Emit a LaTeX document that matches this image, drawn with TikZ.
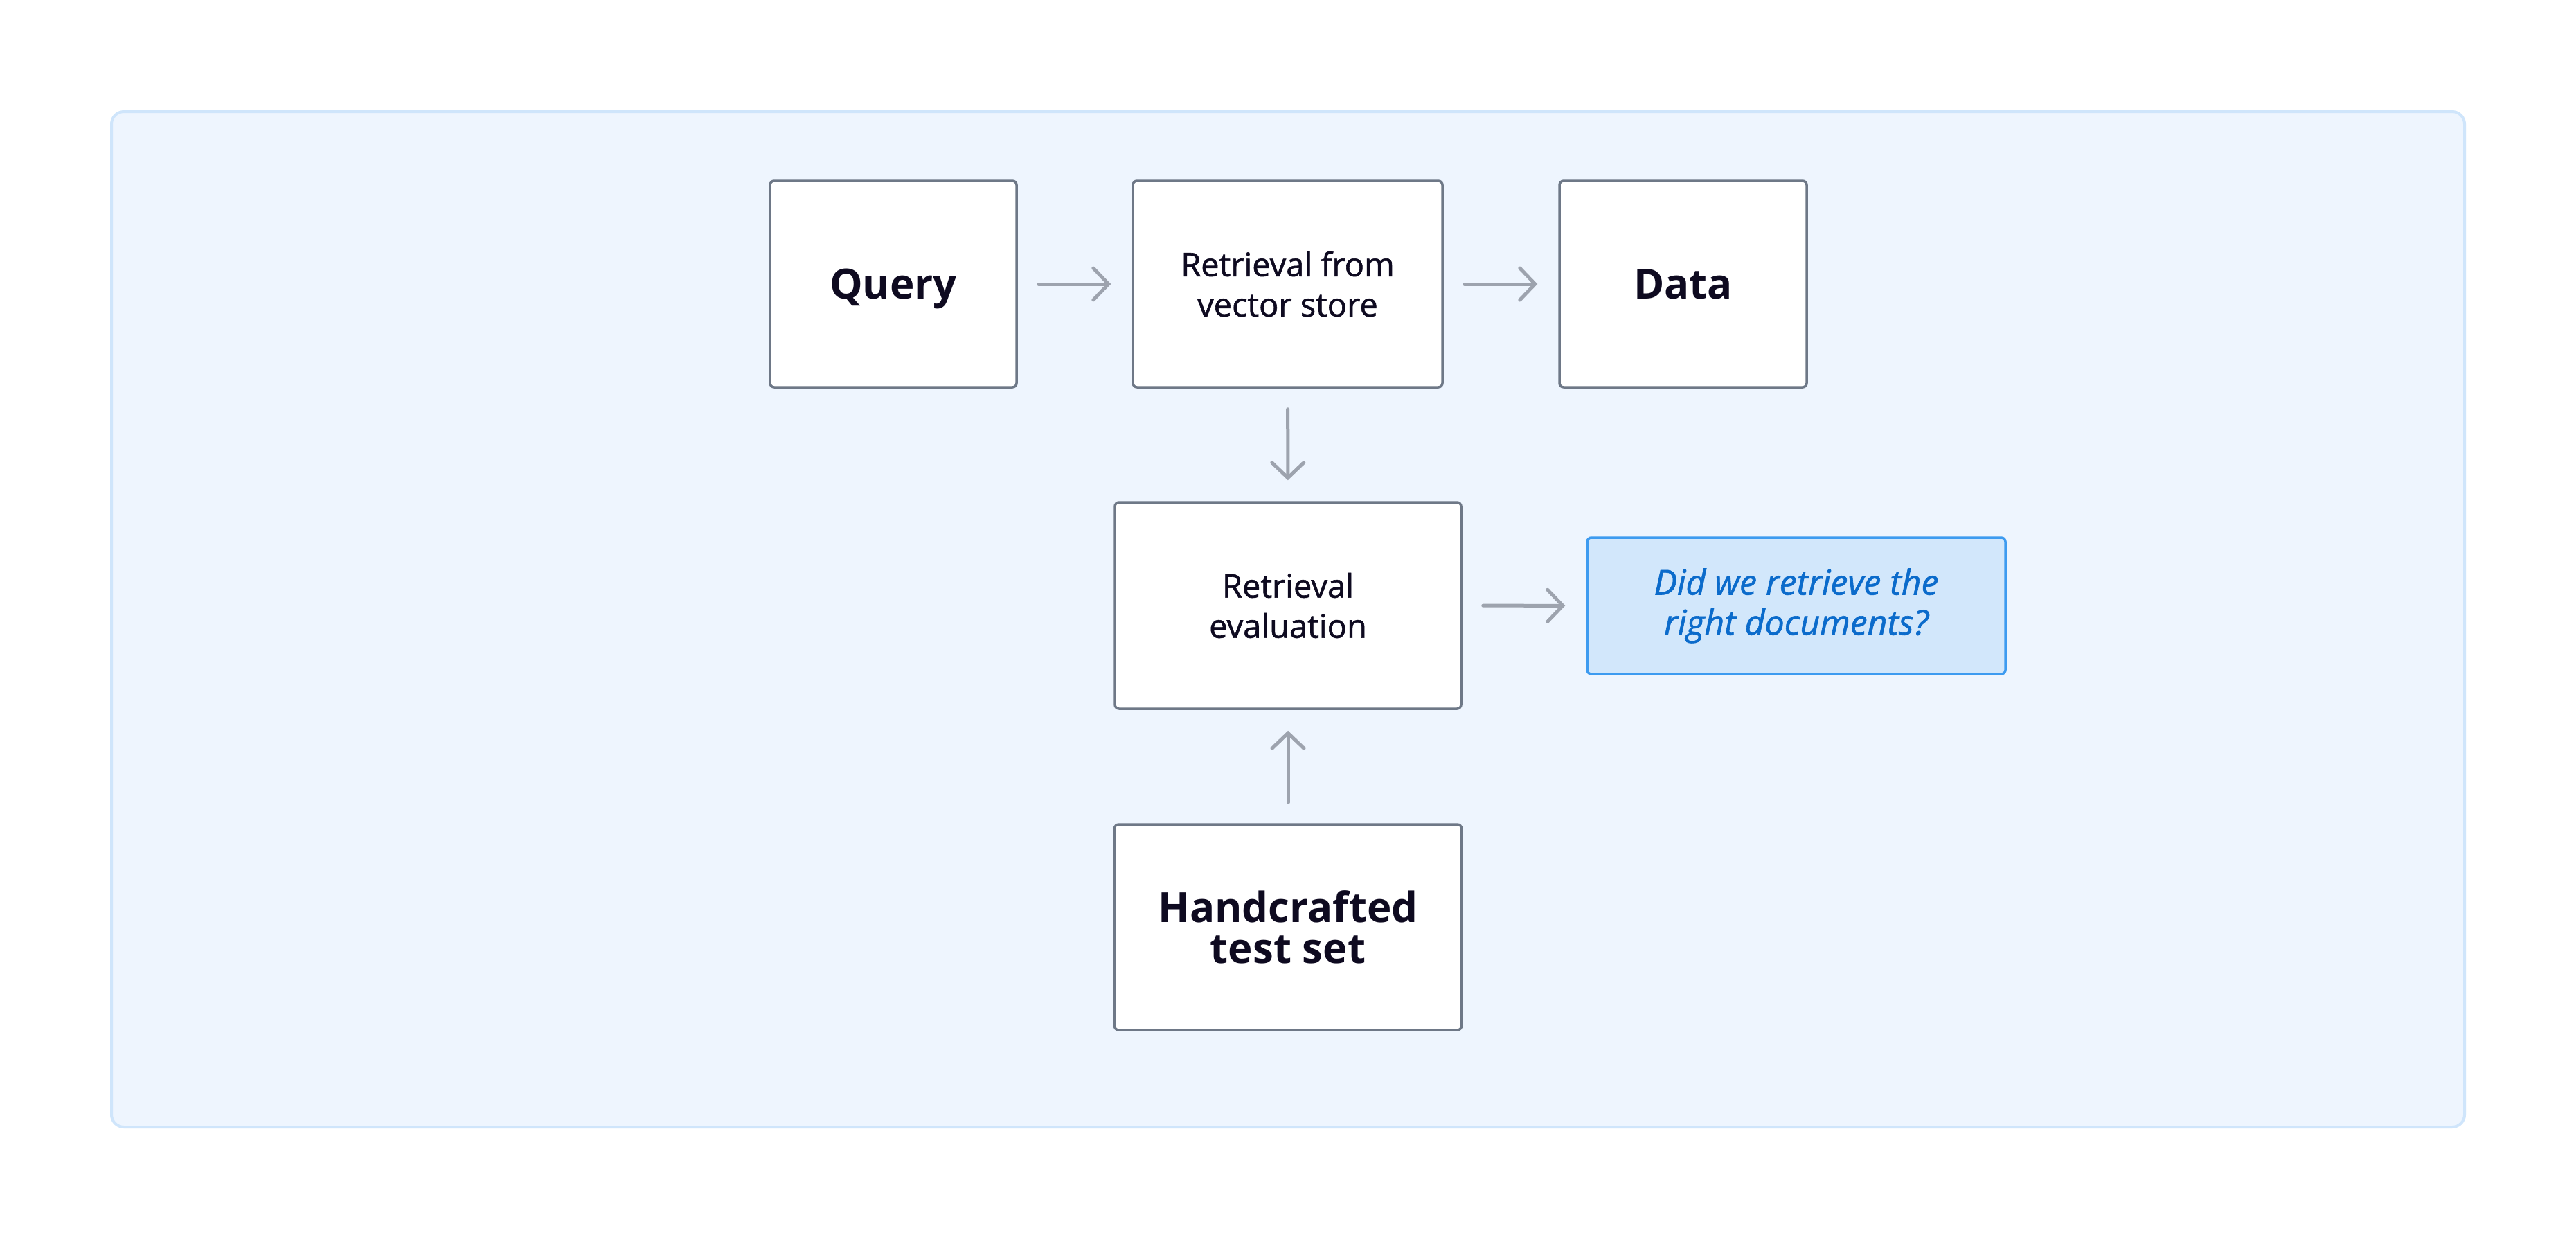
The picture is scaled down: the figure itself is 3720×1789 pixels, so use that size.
\documentclass[tikz,border=0pt]{standalone}
\usepackage{fontspec}
\setmainfont{Open Sans}
\newfontfamily\medfont{Open Sans}[FakeBold=1.2]
\usetikzlibrary{arrows.meta}
\definecolor{panelfill}{HTML}{EEF5FE}
\definecolor{paneldraw}{HTML}{CFE5FB}
\definecolor{boxdraw}{HTML}{6E7887}
\definecolor{arrowcol}{HTML}{9DA3AE}
\definecolor{txtcol}{HTML}{0E0A20}
\definecolor{bluedraw}{HTML}{3D9BF0}
\definecolor{bluefill}{HTML}{D2E7FB}
\definecolor{bluetxt}{HTML}{0B6BCB}
\tikzset{
  x=1pt, y=-1pt,
  panel/.style={fill=panelfill, draw=paneldraw, line width=4pt, rounded corners=18pt},
  box/.style={draw=boxdraw, fill=white, line width=3.5pt, rounded corners=6pt,
    align=center, text=txtcol, inner sep=0pt},
  smalltext/.style={font=\medfont\fontsize{47}{58}\selectfont},
  bigtext/.style={font=\fontsize{60}{59}\selectfont\bfseries},
  bluebox/.style={draw=bluedraw, fill=bluefill, line width=3.5pt, rounded corners=6pt,
    align=center, text=bluetxt, inner sep=0pt, font=\medfont\fontsize{50}{58}\selectfont\itshape},
  flow/.style={draw=arrowcol, line width=5pt, line cap=round,
    -{Straight Barb[length=22pt,width=46pt,line cap=round]},
    shorten <=30pt, shorten >=30pt}
}
\begin{document}
\begin{tikzpicture}
\useasboundingbox (0,0) rectangle (3720,1789);
\fill[white] (0,0) rectangle (3720,1789);
\draw[panel] (161,161) rectangle (3559,1627);
\node[box, bigtext, minimum width=356pt, minimum height=298pt, text depth=0pt] (query) at (1290,410) {Query};
\node[box, smalltext, minimum width=447pt, minimum height=298pt] (retr) at (1859.5,410) {Retrieval from\\vector store};
\node[box, bigtext, minimum width=357pt, minimum height=298pt] (data) at (2430.5,410) {Data};
\node[box, smalltext, minimum width=500pt, minimum height=298pt] (eval) at (1860,874) {Retrieval\\evaluation};
\node[bluebox, minimum width=604pt, minimum height=197pt] (did) at (2594,874.5) {Did we retrieve the\\right documents?};
\node[box, bigtext, minimum width=501pt, minimum height=297pt] (hand) at (1860,1338.5) {Handcrafted\\test set};
\draw[flow] (query) -- (retr);
\draw[flow] (retr) -- (data);
\draw[flow] (retr) -- (eval);
\draw[flow] (eval) -- (did);
\draw[flow] (hand) -- (eval);
\end{tikzpicture}
\end{document}
